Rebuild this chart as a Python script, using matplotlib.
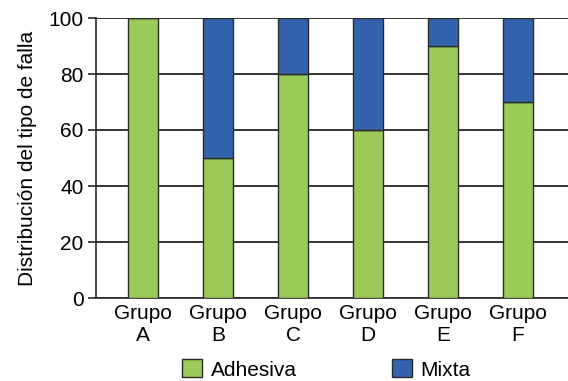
import matplotlib.pyplot as plt
import numpy as np

plt.rcParams['font.family'] = ['Liberation Sans', 'DejaVu Sans']

groups = ["Grupo\nA", "Grupo\nB", "Grupo\nC", "Grupo\nD", "Grupo\nE", "Grupo\nF"]
adhesiva = [100, 50, 80, 60, 90, 70]
mixta = [0, 50, 20, 40, 10, 30]

green = "#9bcb58"
blue = "#3463ae"
edge = "#2a2a2a"

fig = plt.figure(figsize=(5.68, 3.81), dpi=100)
ax = fig.add_axes([96 / 568, 1 - 298 / 381, 1 - 96 / 568, (298 - 18) / 381])

x = np.arange(len(groups))
ax.bar(x, adhesiva, width=0.4, color=green, edgecolor=edge, linewidth=1.0,
       label="Adhesiva", zorder=3)
ax.bar(x, mixta, width=0.4, bottom=adhesiva, color=blue, edgecolor=edge,
       linewidth=1.0, label="Mixta", zorder=3)

ax.set_xlim(-0.627, 5.667)
ax.set_ylim(0, 100)
ax.set_yticks(range(0, 101, 20))
ax.set_xticks(x)
ax.set_xticklabels(groups, fontsize=15, linespacing=1.25)
ax.tick_params(axis="y", labelsize=15, length=6, width=1.2, color=edge, pad=3)
ax.tick_params(axis="x", length=0, pad=4)

ax.grid(axis="y", color="#333333", linewidth=1.4, zorder=0)
for s in ["top", "right"]:
    ax.spines[s].set_visible(False)
ax.spines["left"].set_linewidth(1.2)
ax.spines["left"].set_color(edge)
ax.spines["bottom"].set_linewidth(1.2)
ax.spines["bottom"].set_color(edge)

ax.set_ylabel("Distribución del tipo de falla", fontsize=15, labelpad=8)

fig.legend(loc="center", bbox_to_anchor=(0.575, 0.03), ncol=2, frameon=False,
           fontsize=15, handlelength=0.95, handleheight=0.95, handletextpad=0.4,
           columnspacing=4.6, borderpad=0, borderaxespad=0)

fig.savefig("out.png", dpi=100)
